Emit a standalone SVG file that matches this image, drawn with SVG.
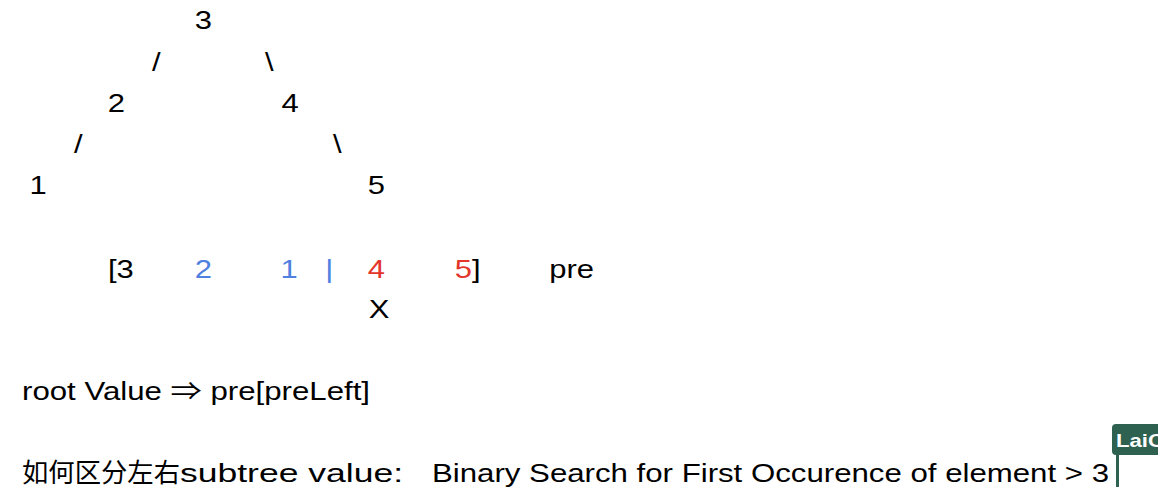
<svg xmlns="http://www.w3.org/2000/svg" width="1158" height="504" viewBox="0 0 1158 504">
<style>
text{font-family:"Liberation Sans",Arial,"Noto Sans CJK SC",sans-serif;font-size:25px;fill:#000}
.b{fill:#4f80e0}
.r{fill:#e3352b}
.cjk{font-size:26px}
.tag{font-size:19px;font-weight:bold;fill:#fff}
</style>
<rect width="1158" height="504" fill="#fff"/>
<g id="tree" transform="scale(1.24 1)">
<g id="n3"><text x="157.1" y="29">3</text></g>
<g id="n2"><text x="86.9" y="112">2</text></g>
<g id="n4"><text x="227.1" y="112">4</text></g>
<g id="n1"><text x="23.9" y="194">1</text></g>
<g id="n5"><text x="296.6" y="194">5</text></g>
<g id="connectors">
<text x="122.6" y="71">/</text>
<text x="213.7" y="71">\</text>
<text x="59.7" y="153">/</text>
<text x="268.5" y="153">\</text>
</g>
<g id="array">
<text x="87.1" y="278">[3</text>
<text class="b" x="157.1" y="278">2</text>
<text class="b" x="226.3" y="278">1</text>
<text class="b" x="262.2" y="278">|</text>
<text class="r" x="296.5" y="278">4</text>
<text x="366.7" y="278"><tspan class="r">5</tspan>]</text>
<text x="442.9" y="278">pre</text>
<text x="297.4" y="318">X</text>
</g>
</g>
<g id="notes">
<text x="22" y="400" textLength="348" lengthAdjust="spacingAndGlyphs">root Value ⇒ pre[preLeft]</text>
<text class="cjk" x="22" y="482" textLength="158" lengthAdjust="spacingAndGlyphs">如何区分左右</text>
<text x="180" y="482" textLength="223" lengthAdjust="spacingAndGlyphs">subtree value:</text>
<text x="432" y="482" textLength="677" lengthAdjust="spacingAndGlyphs">Binary Search for First Occurence of element &gt; 3</text>
</g>
<g id="cursor">
<rect x="1112" y="424" width="52" height="31" rx="4" fill="#2e6150"/>
<rect x="1116" y="450" width="3" height="37" fill="#2e6150"/>
<text class="tag" x="1116" y="447" textLength="48" lengthAdjust="spacingAndGlyphs">LaiC</text>
</g>
</svg>
